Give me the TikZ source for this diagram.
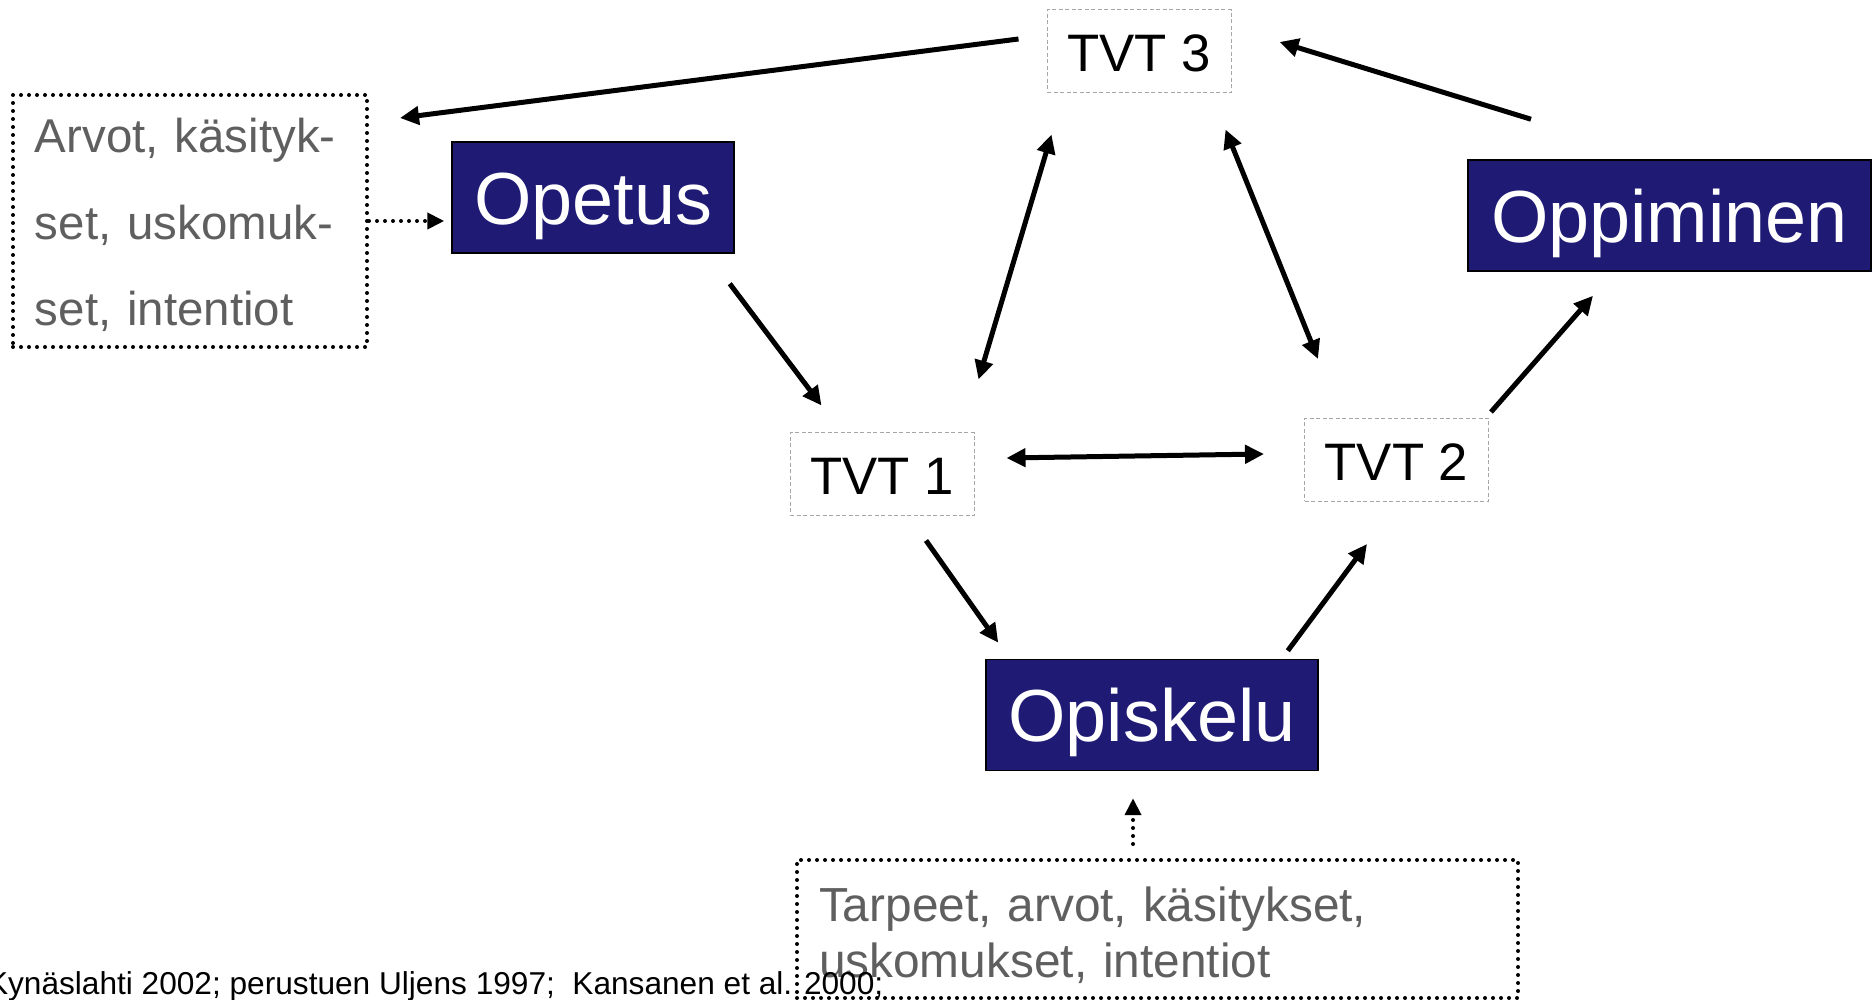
\documentclass[tikz,border=0pt]{standalone}
\usepackage{fontspec}
\setmainfont{Liberation Sans}
\usepackage{tikz}
\usetikzlibrary{arrows.meta,calc}
\definecolor{BoxNavy}{HTML}{1F1B75}
\definecolor{NoteGray}{HTML}{5F5F5F}
\definecolor{FrameGray}{HTML}{A6A6A6}

\begin{document}
\begin{tikzpicture}[
    stagebox/.style={draw=black,line width=0.15mm,fill=BoxNavy,text=white,
      font=\fontsize{21}{25}\selectfont,minimum height=11.1mm,inner sep=0pt,
      text height=5.4mm,text depth=0pt},
    tvtbox/.style={draw=FrameGray,line width=0.1mm,dash pattern=on 0.4mm off 0.25mm,
      font=\fontsize{15}{18}\selectfont,minimum width=18.4mm,minimum height=8.3mm,
      inner sep=0pt,text height=4.1mm,text depth=0pt},
    notebox/.style={draw=black,line width=0.4mm,dash pattern=on 0pt off 0.8mm,line cap=round,
      text=NoteGray,align=left,inner xsep=2.2mm,inner ysep=0pt},
    flow/.style={line width=0.5mm,-{Triangle[length=1.9mm,width=1.8mm]}},
    bothways/.style={line width=0.5mm,{Triangle[length=1.9mm,width=1.8mm]}-{Triangle[length=1.9mm,width=1.8mm]}},
    hint/.style={line width=0.4mm,dash pattern=on 0pt off 0.8mm,line cap=round,
      -{Triangle[length=1.7mm,width=1.6mm]}}
  ]
  \useasboundingbox (0,0) rectangle (18.74,-10);

  \foreach \name/\pos/\boxwidth/\txt in {opetus/{(5.93,-1.975)}/28.2mm/Opetus,
      oppiminen/{(16.695,-2.155)}/40.3mm/Oppiminen,
      opiskelu/{(11.52,-7.15)}/33.2mm/Opiskelu} {
    \node[stagebox,minimum width=\boxwidth] (\name) at \pos {\txt};
  }
  \foreach \n/\pos in {1/{(8.82,-4.745)},2/{(13.965,-4.6)},3/{(11.39,-0.515)}} {
    \node[tvtbox] (tvt\n) at \pos {TVT \n};
  }

  \node[notebox,text width=31mm,minimum height=25.2mm,font=\fontsize{13.5}{24.5}\selectfont,
    text height=5mm,text depth=18.6mm] (arvot) at (1.90,-2.21)
    {Arvot, käsityk-\\set, uskomuk-\\set, intentiot};
  \node[notebox,text width=67.7mm,minimum height=13.8mm,font=\fontsize{13.6}{15.65}\selectfont,
    text height=4mm,text depth=5.4mm] (tarpeet) at (11.575,-9.29)
    {Tarpeet, arvot, käsitykset,\\uskomukset, intentiot};
  \node[anchor=base east,font=\fontsize{9}{11}\selectfont,inner sep=0pt] (source) at (8.84,-9.94)
    {Kynäslahti 2002; perustuen Uljens 1997;\ \ Kansanen et al. 2000;};

  \draw[flow] ($(tvt3.west)+(-0.28,0.125)$) -- ($(arvot.north east)+(0.31,-0.25)$);
  \draw[flow] ($(oppiminen.north)+(-1.385,0.40)$) -- ($(tvt3.east)+(0.48,0.095)$);
  \draw[bothways] ($(tvt1.north east)+(0.04,0.53)$) -- ($(tvt3.south west)+(0.05,-0.41)$);
  \draw[bothways] ($(tvt3.south east)+(-0.06,-0.36)$) -- ($(tvt2.north west)+(0.14,0.59)$);
  \draw[flow] ($(opetus.south east)+(-0.05,-0.30)$) -- ($(tvt1.north west)+(0.32,0.27)$);
  \draw[bothways] ($(tvt1.east)+(0.32,0.165)$) -- ($(tvt2.west)+(-0.40,0.06)$);
  \draw[flow] ($(tvt2.north east)+(0.02,0.06)$) -- ($(oppiminen.south)+(-0.765,-0.24)$);
  \draw[flow] ($(tvt1.south)+(0.44,-0.24)$) -- ($(opiskelu.north west)+(0.13,0.16)$);
  \draw[flow] ($(opiskelu.north east)+(-0.31,0.08)$) -- ($(tvt2.south)+(-0.295,-0.42)$);
  \draw[hint] (arvot.east) -- ($(arvot.east -| opetus.west)+(-0.07,0)$);
  \draw[hint] ($(tarpeet.north)+(-0.245,0.14)$) -- ($(opiskelu.south)+(-0.19,-0.27)$);
\end{tikzpicture}
\end{document}
